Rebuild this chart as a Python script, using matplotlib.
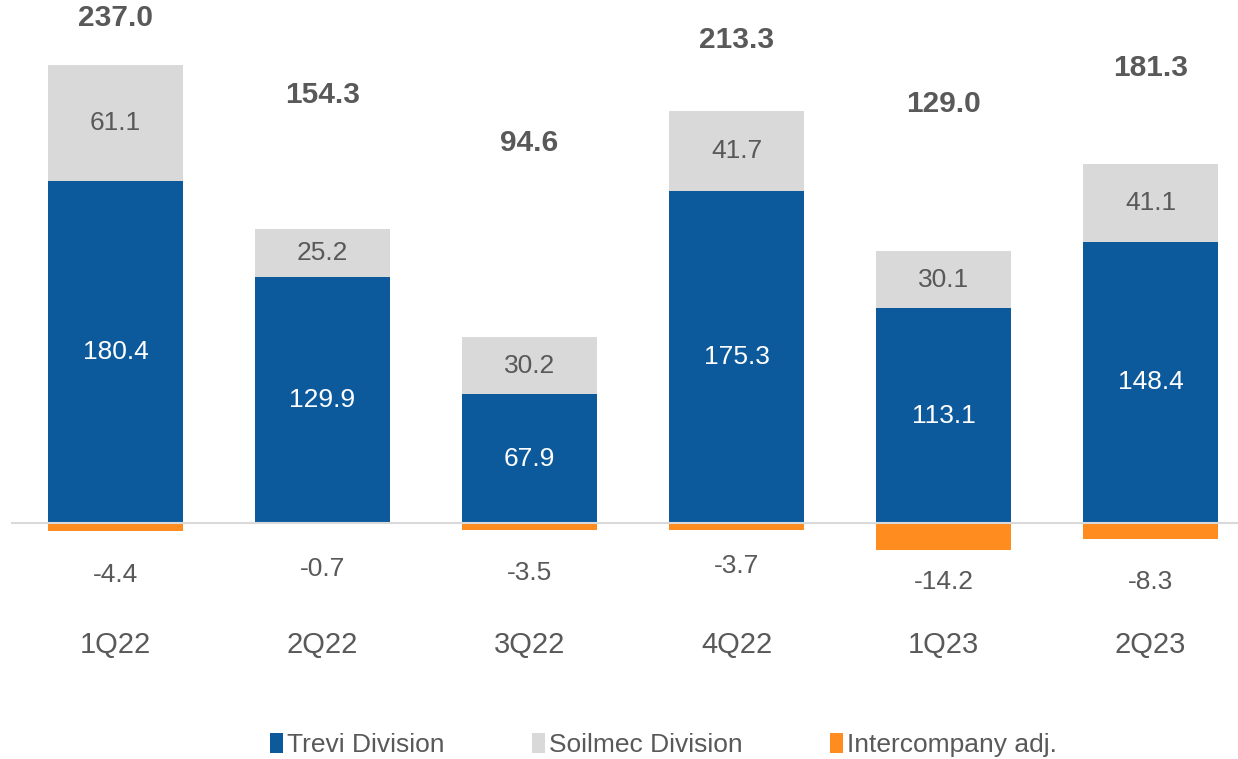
import matplotlib.pyplot as plt
import numpy as np

plt.rcParams['font.family'] = ['Liberation Sans', 'DejaVu Sans']

quarters = ['1Q22', '2Q22', '3Q22', '4Q22', '1Q23', '2Q23']
trevi = [180.4, 129.9, 67.9, 175.3, 113.1, 148.4]
soilmec = [61.1, 25.2, 30.2, 41.7, 30.1, 41.1]
interco = [-4.4, -0.7, -3.5, -3.7, -14.2, -8.3]
totals = [237.0, 154.3, 94.6, 213.3, 129.0, 181.3]

# label heights (data units)
total_label_y = [266.4, 225.7, 200.4, 254.7, 221.0, 240.0]
neg_label_y = [-27.4, -24.3, -26.4, -22.6, -31.1, -31.1]

c_trevi = '#0C5A9C'
c_soil = '#D9D9D9'
c_int = '#FF8C1F'
txt = '#595959'

fig = plt.figure(figsize=(12.38, 7.59), dpi=100)
ax = fig.add_axes([0, 0, 1, 1])
x = np.arange(len(quarters))
w = 0.657

ax.bar(x, trevi, w, color=c_trevi, label='Trevi Division')
ax.bar(x, soilmec, w, bottom=trevi, color=c_soil, label='Soilmec Division')
ax.bar(x, interco, w, color=c_int, label='Intercompany adj.')
ax.axhline(0, xmin=12 / 1238, xmax=1, color='#D9D9D9', lw=1.5, zorder=3)

for i in range(len(quarters)):
    ax.text(x[i], trevi[i] / 2, f'{trevi[i]:.1f}', ha='center', va='center', color='white', fontsize=19)
    ax.text(x[i], trevi[i] + soilmec[i] / 2, f'{soilmec[i]:.1f}', ha='center', va='center', color=txt, fontsize=19)
    ax.text(x[i], neg_label_y[i], f'{interco[i]:.1f}', ha='center', va='center', color=txt, fontsize=19)
    ax.text(x[i], total_label_y[i], f'{totals[i]:.1f}', ha='center', va='center', color=txt, fontsize=21.5, fontweight='bold')
    ax.text(x[i], -64.3, quarters[i], ha='center', va='center', color=txt, fontsize=21)

ax.set_xlim(-0.5 - 12 / 207, 5.5 - 16 / 207)
ax.set_ylim(-124.5, 275.8)
ax.axis('off')

leg = fig.legend(loc='center', bbox_to_anchor=(0.536, 0.018), ncol=3, frameon=False,
                 fontsize=19, handlelength=0.5, handleheight=0.8, handletextpad=0.15,
                 columnspacing=3.3, labelcolor=txt)

fig.savefig('out.png', dpi=100)
